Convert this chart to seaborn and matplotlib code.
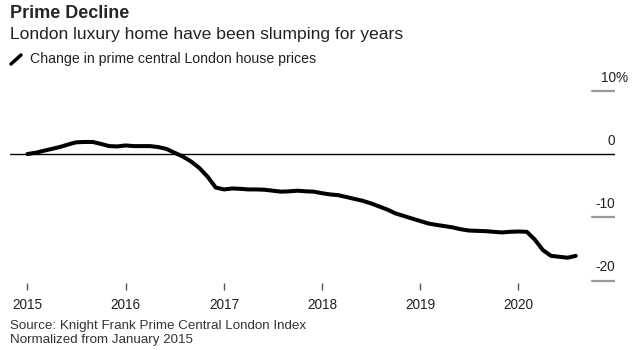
import pandas as pd
import matplotlib.pyplot as plt
import matplotlib.transforms as mtransforms
from matplotlib.lines import Line2D
import seaborn as sns

# Monthly change in prime central London prices (%), normalized from Jan 2015
start = "2015-01-01"
change = [0.0, 0.2, 0.5, 0.8, 1.1, 1.5, 1.85, 1.9, 1.9, 1.6, 1.25, 1.2,
          1.35, 1.25, 1.25, 1.25, 1.1, 0.8, 0.2, -0.4, -1.2, -2.2, -3.6, -5.3,
          -5.6, -5.45, -5.5, -5.6, -5.6, -5.65, -5.8, -5.95, -5.9, -5.8, -5.9, -5.95,
          -6.2, -6.4, -6.5, -6.8, -7.1, -7.4, -7.8, -8.3, -8.8, -9.4, -9.8, -10.2,
          -10.6, -11.0, -11.2, -11.4, -11.6, -11.9, -12.1, -12.15, -12.2, -12.3, -12.4, -12.3,
          -12.25, -12.3, -13.5, -15.2, -16.1, -16.25, -16.4, -16.1]
years = [2015, 2016, 2017, 2018, 2019, 2020]
yticks = [10, 0, -10, -20]
ylabels = ["10%", "0", "-10", "-20"]

df = pd.DataFrame({"date": pd.date_range(start, periods=len(change), freq="MS"),
                   "change": change})

sns.set_style("white")
plt.rcParams["font.family"] = ["Liberation Sans", "DejaVu Sans"]

W, H = 644, 350
fig = plt.figure(figsize=(6.44, 3.5), dpi=100)
ax = fig.add_axes([10 / W, (H - 290) / H, 605 / W, 210 / H])

sns.lineplot(data=df, x="date", y="change", color="black", linewidth=2.9, ax=ax)

ax.set_xlim(pd.Timestamp("2014-10-28"), pd.Timestamp("2020-12-25"))
ax.set_ylim(-21.5, 11.7)
for s in ax.spines.values():
    s.set_visible(False)

ax.axhline(0, color="black", linewidth=1, zorder=1)
for v in yticks:
    if v != 0:
        ax.axhline(v, xmin=0.962, xmax=1.0, color="#999999", linewidth=1.6)

# labels sit above their tick lines; the % sign hangs past the right edge
ax.set_yticks([])
trans = mtransforms.blended_transform_factory(ax.transAxes, ax.transData)
for v, lab in zip(yticks, ylabels):
    dx = 9.3 if lab.endswith("%") else 0
    ax.annotate(lab, xy=(1.0, v), xycoords=trans, xytext=(dx, 4.5), textcoords="offset points",
                ha="right", va="bottom", fontsize=9.8, color="#222222")

ax.set_xticks([pd.Timestamp(f"{y}-01-01") for y in years])
ax.set_xticklabels([str(y) for y in years])
ax.tick_params(axis="x", direction="in", length=5, width=1, color="#555555",
               labelsize=9.8, labelcolor="#222222", pad=6, bottom=True)
ax.set_xlabel("")
ax.set_ylabel("")

fig.text(10 / W, 1 - 13 / H, "Prime Decline", fontsize=13, fontweight="bold", va="center")
fig.text(10 / W, 1 - 35 / H, "London luxury home have been slumping for years",
         fontsize=12.6, va="center", color="#222222")
fig.add_artist(Line2D([11 / W, 21 / W], [1 - 64 / H, 1 - 55 / H], color="black",
                      linewidth=2.5, transform=fig.transFigure))
fig.text(30 / W, 1 - 59.5 / H, "Change in prime central London house prices",
         fontsize=10.2, va="center", color="#222222")
fig.text(10 / W, 1 - 326.5 / H, "Source: Knight Frank Prime Central London Index",
         fontsize=9.6, va="center", color="#333333")
fig.text(10 / W, 1 - 340.5 / H, "Normalized from January 2015",
         fontsize=9.6, va="center", color="#333333")

fig.savefig("out.png", dpi=100)
